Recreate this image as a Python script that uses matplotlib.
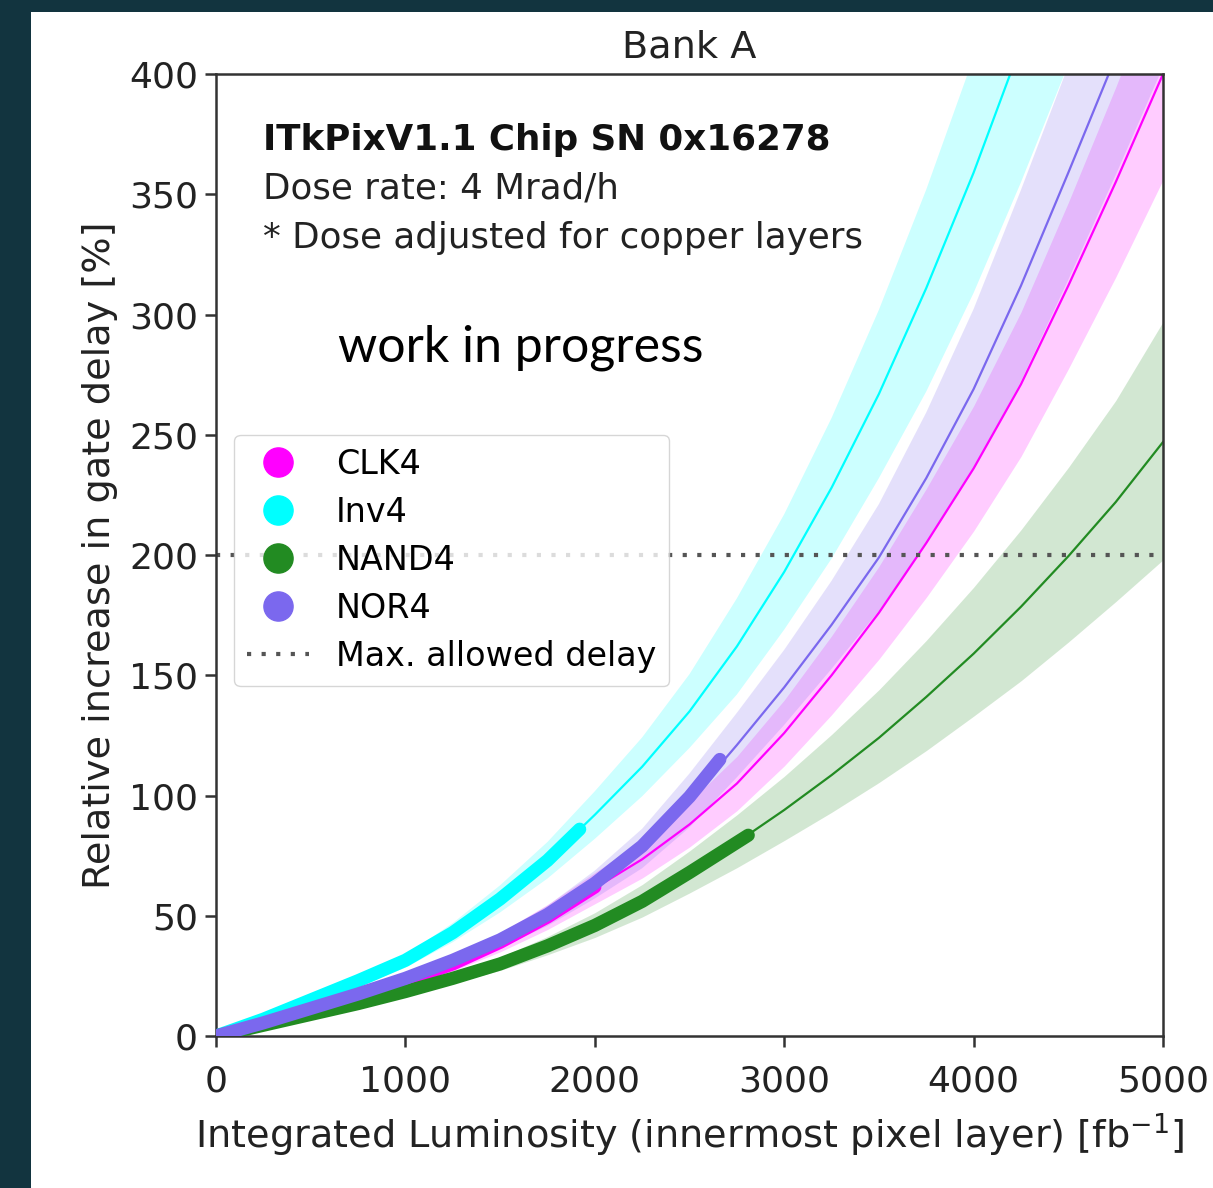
import numpy as np
import matplotlib.pyplot as plt
from matplotlib.patches import Rectangle
from matplotlib.lines import Line2D

# luminosity grid for the fitted curves [fb^-1]
lumi_fit = np.arange(0, 5001, 250)

# fitted relative delay increase [%] with uncertainty bands
clk4_fit = [0, 5, 10.5, 16.5, 23, 30, 39, 49.5, 61.5, 73.5, 88, 105, 126, 150, 176, 205, 236, 271, 312, 355, 400]
clk4_hi = [0, 5.4, 11.4, 18, 25.2, 33, 43, 54.7, 68, 81.3, 97.4, 116.3, 139.7, 166.4, 195.3, 227.6, 262, 301, 346.6, 394.5, 444.5]
clk4_lo = [0, 4.6, 9.6, 15, 20.8, 27, 35, 44.3, 55, 65.7, 78.6, 93.7, 112.3, 133.6, 156.7, 182.4, 210, 241, 277.4, 315.5, 356]

inv4_fit = [0, 6.5, 14, 22, 31, 43, 57, 73, 92, 112, 135, 162, 193, 228, 267, 311, 359, 412, 468, 528, 592]
inv4_hi = [0, 7, 15, 23.6, 33.6, 47, 62.7, 80.7, 101.8, 124.2, 150.5, 182, 217, 257, 302, 352, 407, 467, 530, 595, 660]
inv4_lo = [0, 6.1, 13, 20.4, 28.4, 39, 51.4, 65.5, 82, 99.7, 119.8, 142, 169, 198.5, 232, 268, 309, 355, 404, 455, 511]

nand4_fit = [0, 4.5, 9, 13.5, 18.5, 24, 30, 37.5, 46, 56, 68, 80.5, 94, 108.5, 124, 141, 159, 178.5, 199.5, 222, 247]
nand4_hi = [0, 4.7, 9.5, 14.4, 19.9, 26, 32.8, 41.4, 51.3, 63, 77, 92, 108, 125.4, 144, 164.5, 186.6, 210.5, 236.4, 264.2, 297]
nand4_lo = [0, 4.3, 8.5, 12.6, 17.1, 22, 27.3, 33.8, 41, 49.5, 59.5, 70, 81.3, 93, 105.4, 118.7, 133, 147.7, 163.8, 180.6, 198]

nor4_fit = [0, 5.5, 11, 17, 23.5, 31, 39.5, 50, 63, 78, 98, 121, 145, 171, 199, 232, 269, 312, 359, 407, 458]
nor4_hi = [0, 5.8, 11.6, 18, 24.9, 33, 42.3, 54.2, 68.8, 86.2, 109.2, 134.4, 160.6, 189.3, 221.2, 259.3, 302.3, 351.8, 403.5, 456, 513]
nor4_lo = [0, 5.2, 10.4, 16, 22.1, 29, 36.7, 45.8, 57.2, 69.8, 86.8, 107.6, 129.4, 152.7, 176.8, 204.7, 235.7, 272.2, 314.5, 358, 403]

# measured points
clk4_meas_x = [0, 250, 500, 750, 1000, 1250, 1500, 1750, 2000]
clk4_meas_y = [0, 5, 10.5, 16.5, 23, 30, 39, 49.5, 62]
inv4_meas_x = [0, 250, 500, 750, 1000, 1250, 1500, 1750, 1920]
inv4_meas_y = [0, 7, 15, 23, 31.5, 43, 57, 73, 86]
nand4_meas_x = [0, 250, 500, 750, 1000, 1250, 1500, 1750, 2000, 2250, 2500, 2750, 2810]
nand4_meas_y = [0, 4.5, 9, 13.5, 18.5, 24, 30, 37.5, 46, 56, 68, 80.5, 83.5]
nor4_meas_x = [0, 250, 500, 750, 1000, 1250, 1500, 1750, 2000, 2250, 2500, 2660]
nor4_meas_y = [0, 5.5, 11.5, 17.5, 24, 31.5, 40, 50.5, 63.5, 79, 99.5, 115]

max_delay = 200

series = [
    ("CLK4", "#ff00ff", clk4_fit, clk4_lo, clk4_hi, clk4_meas_x, clk4_meas_y),
    ("Inv4", "#00ffff", inv4_fit, inv4_lo, inv4_hi, inv4_meas_x, inv4_meas_y),
    ("NAND4", "#228b22", nand4_fit, nand4_lo, nand4_hi, nand4_meas_x, nand4_meas_y),
    ("NOR4", "#7b68ee", nor4_fit, nor4_lo, nor4_hi, nor4_meas_x, nor4_meas_y),
]

plt.rcParams["font.size"] = 26

fig = plt.figure(figsize=(12.13, 11.88), dpi=100)
fig.patch.set_facecolor("#12343f")
# white page area, dark strip left and top
fig.patches.append(Rectangle((31 / 1213, 0), 1, 1 - 12 / 1188, transform=fig.transFigure,
                             facecolor="white", edgecolor="none", zorder=-10))

ax = fig.add_axes([0.1781, 0.1279, 0.7807, 0.8098])
ax.set_zorder(1)

for name, color, fit, lo, hi, mx, my in series:
    ax.fill_between(lumi_fit, lo, hi, color=color, alpha=0.2, linewidth=0, zorder=1)
    ax.plot(lumi_fit, fit, color=color, lw=1.6, zorder=2)

for name, color, fit, lo, hi, mx, my in series:
    ax.plot(mx, my, color=color, lw=9.5, solid_capstyle="round", solid_joinstyle="round", zorder=3)

ax.axhline(max_delay, color="#555555", lw=3, linestyle=(0, (1, 2.5)), zorder=2.5)

ax.set_xlim(0, 5000)
ax.set_ylim(0, 400)
ax.set_xticks([0, 1000, 2000, 3000, 4000, 5000])
ax.set_yticks([0, 50, 100, 150, 200, 250, 300, 350, 400])
ax.tick_params(length=8, width=1.8, color="#333333", labelcolor="#222222", labelsize=26)
ax.tick_params(axis="x", pad=12.5)
ax.tick_params(axis="y", pad=5)
for sp in ax.spines.values():
    sp.set_linewidth(1.8)
    sp.set_color("#333333")

ax.set_title("Bank A", fontsize=27.5, pad=12, color="#222222")
ax.set_xlabel("Integrated Luminosity (innermost pixel layer) [fb$^{-1}$]", fontsize=27.5,
              color="#222222", labelpad=9)
ax.set_ylabel("Relative increase in gate delay [%]", fontsize=27.5, color="#222222", labelpad=8)

ax.text(0.0496, 0.931, "ITkPixV1.1 Chip SN 0x16278", transform=ax.transAxes, fontsize=25.7,
        fontweight="bold", va="center", ha="left", color="#111111")
ax.text(0.0496, 0.881, "Dose rate: 4 Mrad/h", transform=ax.transAxes, fontsize=25.7,
        va="center", ha="left", color="#222222")
ax.text(0.0496, 0.8295, "* Dose adjusted for copper layers", transform=ax.transAxes, fontsize=25.7,
        va="center", ha="left", color="#222222")

handles = [Line2D([0], [0], marker="o", linestyle="none", markersize=21,
                  markerfacecolor=c, markeredgecolor=c, label=n)
           for n, c, *_ in series]
handles.append(Line2D([0], [0], color="#555555", lw=3, linestyle=(0, (1, 2.5)),
                      label="Max. allowed delay"))
leg = ax.legend(handles=handles, loc="upper left", bbox_to_anchor=(0.0014, 0.6425),
                fontsize=24, labelspacing=0.45, handlelength=1.85, handletextpad=0.8,
                borderpad=0.4)
leg.set_zorder(5)

fig.text(338 / 1213, 1 - 348 / 1188, "work in progress", family="Lato",
         fontsize=36, va="center", ha="left", color="black", zorder=5)

fig.savefig("out.png", dpi=100)
